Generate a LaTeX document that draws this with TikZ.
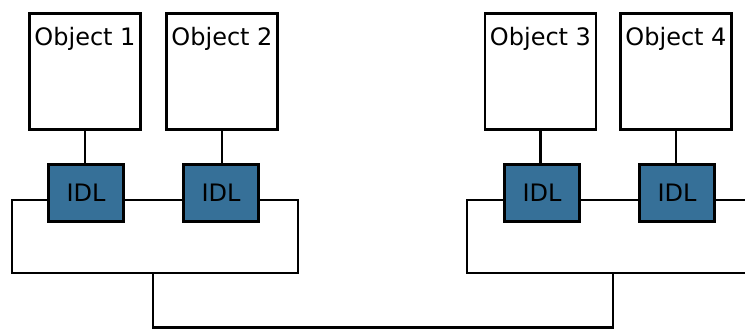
\documentclass[tikz,border=0pt]{standalone}
\usepackage{fontspec}
\setmainfont{DejaVu Sans}
\definecolor{idlblue}{RGB}{54,112,152}
\begin{document}
\begin{tikzpicture}[x=1pt, y=-1pt, line width=2.8pt,
  objbox/.style={draw, fill=white, minimum width=111pt, minimum height=116pt, inner sep=0pt},
  idlbox/.style={draw, fill=idlblue, minimum width=75pt, minimum height=57pt, inner sep=0pt,
                 font=\fontsize{24}{27}\selectfont},
  objlabel/.style={anchor=base, inner sep=0pt, font=\fontsize{24}{27}\selectfont},
  wire/.style={draw, line width=2.8pt}]
\useasboundingbox (0,0) rectangle (745,329);
\clip (0,0) rectangle (745,329);

% object boxes with their titles near the top
\node[objbox] (o1) at (85,71.5) {};
\node[objbox] (o2) at (222,71.5) {};
\node[objbox] (o3) at (540.5,71.5) {};
\node[objbox] (o4) at (676,71.5) {};
\node[objlabel] (t1) at (85,46) {Object 1};
\node[objlabel] (t2) at (222,46) {Object 2};
\node[objlabel] (t3) at (540.5,46) {Object 3};
\node[objlabel] (t4) at (676,46) {Object 4};

% IDL stubs
\node[idlbox] (i1) at (86,193) {IDL};
\node[idlbox] (i2) at (221,193) {IDL};
\node[idlbox] (i3) at (542,193) {IDL};
\node[idlbox] (i4) at (677,193) {IDL};

% object to stub links
\draw[wire] (o1.south) -- (o1.south |- i1.north);
\draw[wire] (o2.south) -- (o2.south |- i2.north);
\draw[wire] (o3.south) -- (o3.south |- i3.north);
\draw[wire] (o4.south) -- (o4.south |- i4.north);

% corner points of the two local loops and the bus
\coordinate (l1) at (12,273);
\coordinate (r1) at (298,273);
\coordinate (b1) at (153,273);
\coordinate (l2) at (467,273);
\coordinate (r2) at (760,273);
\coordinate (e4) at (760,200);
\coordinate (b2) at (613,273);
\coordinate (bb) at (153,327.5);

% left loop
\draw[wire] ([yshift=-7pt]i1.east) -- ([yshift=-7pt]i2.west);
\draw[wire] ([yshift=-7pt]i1.west) -| (l1) -- (r1) |- ([yshift=-7pt]i2.east);

% right loop
\draw[wire] ([yshift=-7pt]i3.east) -- ([yshift=-7pt]i4.west);
\draw[wire] ([yshift=-7pt]i4.east) -- (e4);
\draw[wire] ([yshift=-7pt]i3.west) -| (l2) -- (r2);

% bus between the loops
\draw[wire] (b1) -- (bb) -| (b2);
\end{tikzpicture}
\end{document}
